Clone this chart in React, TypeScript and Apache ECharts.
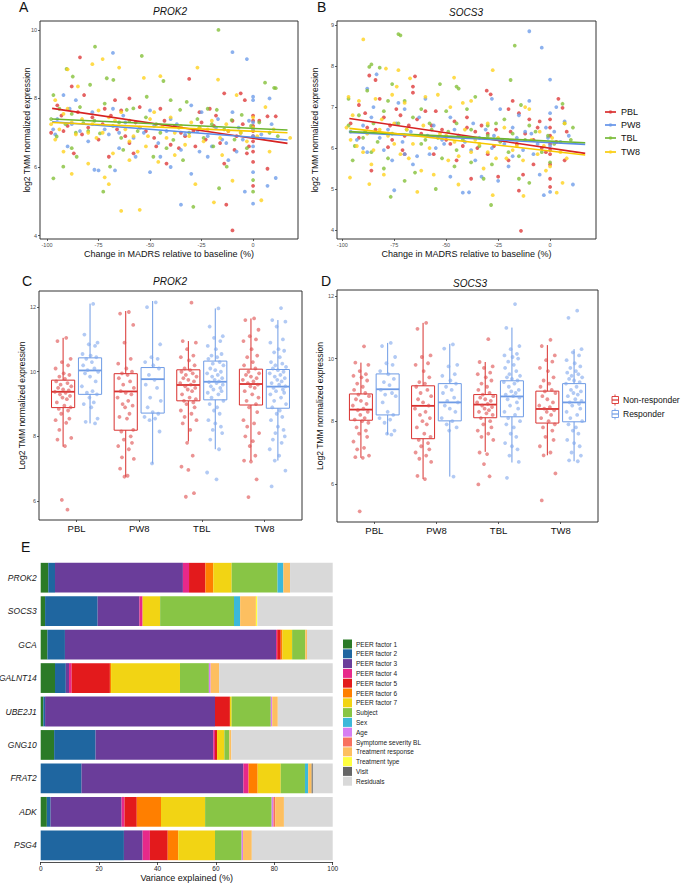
import React, { useEffect, useRef } from "react";
import * as echarts from "echarts";

// ---------- Panel A / B : scatter (x = change in MADRS %, y = expression) ----------
const A_PBL = [[-84,9.2],[-31,8.57],[-88,8.35],[-82,8.1],[-67,7.95],[-60,8.0],[-55,7.75],[-45,7.7],[-21,7.7],[-14,8.15],[-6,8.15],[-4,7.95],[0,7.5],[0,7.35],[0,7.2],[-10,7.35],[-18,7.5],[-25,7.3],[-35,7.0],[-40,6.65],[-48,6.85],[-58,6.4],[-66,7.1],[-73,7.25],[-80,7.15],[-92,7.05],[-95,7.8],[-87,6.4],[-70,6.3],[-42,6.1],[-28,6.6],[-14,6.1],[0,6.15],[0,5.45],[-13,4.9],[-10,4.15],[7,5.95],[11,7.48],[-3,6.4],[-9,6.5],[-36,6.55],[-62,6.9],
  [-93,7.5],[-90,7.2],[-85,7.6],[-78,7.45],[-75,6.8],[-72,7.7],[-69,7.5],[-64,7.65],[-57,7.3],[-52,7.05],[-47,6.6],[-43,7.35],[-38,7.2],[-33,6.9],[-29,7.05],[-23,6.8],[-19,7.2],[-16,6.7],[-12,7.05],[-8,6.9],[-5,7.25],[-2,6.6],[0,6.9],[0,6.75],[0,6.45],[0,7.05],[3,7.35],[7,7.48],[-98,7.0],[-83,6.95],[-60,6.7],[-26,7.6]];
const A_PW8 = [[-68,9.33],[-10,9.35],[-3,9.15],[-92,8.1],[-86,7.95],[-78,7.6],[-68,7.7],[-62,7.3],[-55,7.15],[-48,7.2],[-50,7.65],[-40,7.4],[-30,7.8],[-25,7.6],[-17,7.4],[0,8.05],[0,7.95],[8,8.0],[0,6.9],[-10,7.6],[-5,6.8],[-15,6.8],[-20,6.6],[-35,6.5],[-45,6.3],[-65,6.55],[-75,5.9],[-77,5.92],[-67,5.9],[-90,6.6],[-97,7.1],[-50,5.85],[-30,5.8],[-35,4.9],[0,4.93],[0,5.85],[-4,5.28],[11,5.68],[7,5.45],[-8,6.45],[-40,6.0],[-22,6.3],
  [-95,7.4],[-88,7.25],[-84,7.05],[-80,6.75],[-72,7.1],[-70,6.95],[-63,7.5],[-58,6.85],[-53,7.0],[-46,6.7],[-42,7.05],[-37,7.25],[-33,6.95],[-27,7.05],[-22,6.9],[-18,7.15],[-13,6.7],[-7,7.15],[-2,7.35],[0,7.1],[0,6.6],[0,7.3],[4,6.95],[9,7.25],[-89,7.7],[-57,6.3],[-26,6.45],[-12,6.2],[-96,6.95],[-65,7.0]];
const A_TBL = [[-16.8,10.0],[-76.7,9.51],[-54,9.24],[-90.5,8.86],[-87.5,8.64],[-71,8.59],[-43.5,8.51],[5.8,8.46],[10.2,8.31],[-96.9,8.1],[-51.6,8.05],[-32.2,7.9],[-61.3,7.67],[-17.6,7.67],[-82.4,7.28],[-74.3,6.98],[-38.7,6.79],[-95.3,6.89],[-19.3,6.6],[-48.4,6.3],[-85.6,6.3],[-92.1,6.01],[-12.8,6.01],[-69.4,6.01],[-72.7,5.28],[-96.9,5.67],[-29,4.84],[0,5.28],[0,5.62],[-16.5,5.38],[-35.4,7.67],[-58.1,7.71],[-79.1,8.4],[-67.8,8.54],[-10.4,7.37],[-5.5,7.52],[-26,7.15],[-45,7.0],[-65,7.3],[-88,7.55],[-3,6.55],[12,6.9],
  [-98,7.4],[-94,7.7],[-91,7.25],[-86,7.0],[-84,7.75],[-80,7.05],[-77,7.35],[-72,7.85],[-68,7.2],[-64,6.85],[-60,7.35],[-56,7.05],[-52,7.45],[-47,7.25],[-42,6.55],[-40,7.95],[-36,7.15],[-31,7.0],[-27,7.4],[-24,6.85],[-20,7.25],[-14,7.1],[-9,6.8],[-6,7.0],[-1,7.2],[3,7.3],[8,7.0],[11,8.3],[-88,6.55],[-63,6.5],[-34,6.2],[-22,7.7]];
const A_TW8 = [[-73,9.15],[-78,9.0],[-90,8.85],[-85,8.35],[-65,8.9],[-53,8.6],[-45,8.65],[-27,8.9],[-17,8.55],[-8,8.1],[-96,7.95],[-92,7.55],[-88,7.3],[-80,7.0],[-75,7.65],[-70,7.45],[-62,7.1],[-58,6.9],[-50,7.4],[-44,7.2],[-38,7.0],[-30,7.3],[-22,7.1],[-12,7.05],[0,7.45],[6,7.75],[-96,6.8],[-88,5.8],[-80,6.1],[-72,5.7],[-70,5.5],[-60,6.2],[-56,6.45],[-46,6.15],[-28,5.5],[-19,4.97],[4,5.03],[-64,4.72],[-55,4.75],[-10,5.6],[18,6.85],[8,6.45],[-15,6.35],[-33,6.65],
  [-98,7.25],[-94,7.1],[-90,7.7],[-86,6.95],[-83,7.4],[-78,7.25],[-76,6.85],[-73,7.0],[-67,7.35],[-64,7.6],[-60,6.75],[-55,7.15],[-51,6.9],[-48,7.6],[-42,6.85],[-40,7.45],[-35,7.2],[-31,6.9],[-26,7.15],[-24,6.75],[-20,7.35],[-16,6.85],[-13,7.25],[-6,7.0],[-3,6.75],[0,7.15],[2,6.9],[10,7.1],[-92,6.45],[-68,6.4],[-52,6.6],[-38,6.35]];

const B_PBL = [[-87,7.77],[-84,7.66],[-65,7.75],[-66,7.5],[-66,7.35],[-30.5,7.4],[-28.6,7.31],[-92,7.05],[-88,6.5],[-80,6.75],[-76,6.2],[-72,6.8],[-68,6.55],[-62,6.35],[-55,6.9],[-50,6.2],[-46,6.65],[-40,6.5],[-35,6.0],[-30,6.35],[-26,6.45],[-20,6.95],[-18,7.15],[-15,6.85],[-10,6.7],[-5,6.65],[0,6.5],[0,6.3],[0,6.1],[0,5.85],[0,5.6],[0,5.25],[0,5.05],[4,7.2],[6,6.98],[7,5.7],[-14,3.98],[-15,4.96],[-13,5.35],[-20,5.7],[-25,5.3],[-38,5.25],[-56,5.85],[-70,5.85],[-86,5.45],[-78,6.02],[-42,6.05],[-8,5.6],[-4,6.0],
  [-96,6.6],[-92,6.25],[-89,6.85],[-84,6.45],[-82,7.2],[-77,6.55],[-74,6.95],[-70,6.3],[-64,6.7],[-60,6.9],[-57,6.55],[-52,6.45],[-48,6.1],[-44,6.3],[-40,6.75],[-36,6.4],[-33,6.55],[-27,6.05],[-23,6.2],[-19,6.4],[-16,6.1],[-12,6.35],[-8,6.2],[-6,6.5],[-2,5.9],[0,6.7],[0,5.95],[3,6.15],[8,6.4],[-71,5.95],[-45,5.7],[-30,5.85]];
const B_PW8 = [[-10,8.85],[-4,8.45],[-83.5,7.8],[0,7.67],[-88,7.45],[-85,7.0],[-90,6.55],[-96,6.4],[-78,6.45],[-73,7.1],[-70,6.95],[-60,7.2],[-52,6.2],[-48,6.75],[-44,6.3],[-38,5.95],[-28,7.2],[-28,6.0],[-24,6.95],[-18,6.5],[-15,6.8],[-12,6.4],[-10,7.15],[-2,6.5],[0,6.85],[3,7.0],[7,6.65],[-88,5.9],[-76,5.7],[-70,5.85],[-64,5.8],[-58,5.85],[-48,5.3],[-42,4.91],[-39,4.92],[-33,5.3],[-20,5.55],[-18,5.8],[-3,4.85],[0,4.93],[11,5.11],[-75,4.97],[-5,5.35],[-25,5.2],[-55,6.0],
  [-93,6.2],[-90,6.0],[-86,6.75],[-82,6.25],[-80,5.95],[-74,6.6],[-71,6.15],[-67,6.4],[-63,6.75],[-59,6.3],[-56,6.55],[-51,6.1],[-46,6.45],[-41,6.15],[-37,6.6],[-34,6.25],[-31,6.45],[-27,6.3],[-22,6.1],[-16,6.25],[-13,5.95],[-9,6.35],[-6,6.1],[-1,6.25],[0,6.05],[2,6.4],[5,6.15],[9,6.3],[-66,5.6],[-36,5.7],[-8,5.85]];
const B_TBL = [[-17,8.5],[-73,8.78],[-72,8.75],[-86,8.04],[-87,7.98],[-82,7.96],[-19,7.66],[-53,7.56],[-45,7.5],[-44,7.45],[-76,7.56],[-88,7.4],[-97,7.2],[-78,7.15],[-70,7.15],[-62,6.95],[-58,6.6],[-50,6.9],[-40,6.95],[-36,7.25],[-30,6.55],[-22,6.7],[-14,7.05],[-10,6.55],[6,7.08],[7,6.6],[11,6.5],[-95,5.7],[-86,5.9],[-80,5.5],[-76.7,4.81],[-70,5.2],[-65,5.4],[-55,5.0],[-46,5.55],[-38,5.65],[-32,5.25],[-28.4,4.61],[-28,5.6],[-20,5.9],[-15,5.25],[-10,5.15],[0,5.65],[-60,6.2],[-90,6.25],[-45,5.95],
  [-97,6.55],[-94,6.05],[-92,6.8],[-89,6.4],[-85,6.6],[-83,6.15],[-80,6.9],[-76,6.35],[-73,6.6],[-69,6.45],[-66,6.75],[-62,6.1],[-57,6.45],[-54,6.25],[-49,6.4],[-45,6.6],[-42,6.2],[-38,6.45],[-34,6.05],[-30,6.3],[-26,6.6],[-24,6.15],[-18,6.35],[-15,5.8],[-12,6.2],[-7,6.4],[-4,5.9],[-1,6.3],[2,6.1],[10,6.2],[-52,5.75],[-78,5.75]];
const B_TW8 = [[-89.9,8.65],[-79,7.94],[-73,7.9],[-27.6,7.9],[-67.4,7.7],[-46.2,7.72],[-73.8,7.5],[-97,7.25],[-92,7.15],[-84,7.2],[-76,7.3],[-70,7.1],[-60,7.25],[-54,7.3],[-48,7.0],[-42,7.1],[-38,7.15],[-30,6.6],[-22,6.5],[-12,7.0],[-10,6.95],[-5,6.4],[7,6.6],[-96,6.2],[-90,5.9],[-82,6.45],[-75,6.1],[-68,5.75],[-62,5.45],[-56,5.35],[-50,6.3],[-44,5.8],[-36,6.2],[-32,5.5],[-26,5.75],[-18,5.95],[-12.8,4.83],[-27.6,4.85],[-63.9,4.93],[3.2,4.91],[-44.1,5.11],[-87,5.12],[-96.3,5.28],[-2,5.45],[6,5.15],[-80,5.35],
  [-98,6.5],[-95,6.8],[-93,6.05],[-88,6.35],[-85,5.95],[-81,6.7],[-78,6.3],[-75,6.6],[-72,5.85],[-69,6.45],[-66,6.1],[-61,6.55],[-58,6.0],[-53,6.35],[-49,5.7],[-46,6.15],[-41,6.45],[-38,5.9],[-34,6.1],[-30,5.9],[-25,6.25],[-21,5.75],[-16,6.05],[-13,5.7],[-9,6.2],[-6,5.85],[-3,6.05],[0,5.55],[1,6.25],[5,5.9],[8,5.75],[-86,5.6]];

// fitted regression line end points [[x0,y0],[x1,y1]]
const A_FIT_PBL = [[-97.5, 7.71], [16.7, 6.69]];
const A_FIT_PW8 = [[-97.5, 7.32], [16.7, 6.79]];
const A_FIT_TBL = [[-97.5, 7.40], [16.7, 7.08]];
const A_FIT_TW8 = [[-97.5, 7.30], [16.7, 7.0]];
const B_FIT_PBL = [[-96.6, 6.72], [16.9, 5.87]];
const B_FIT_PW8 = [[-96.6, 6.38], [16.9, 6.09]];
const B_FIT_TBL = [[-96.6, 6.40], [16.9, 6.13]];
const B_FIT_TW8 = [[-96.6, 6.48], [16.9, 5.83]];

const GROUPS = ["PBL", "PW8", "TBL", "TW8"];
const A_X_TICKS = [-100, -75, -50, -25, 0];
const A_Y_TICKS = [4, 6, 8, 10];
const B_Y_TICKS = [4, 5, 6, 7, 8, 9];

// ---------- Panel C / D : boxplots ----------
const CATS = ["PBL", "PW8", "TBL", "TW8"];
const BOX_Y_TICKS = [6, 8, 10, 12];
// [min, Q1, median, Q3, max] per category
const C_BOX_NON = [[7.68, 8.89, 9.38, 9.74, 11.05], [6.75, 8.19, 9.39, 9.94, 11.88], [7.84, 9.10, 9.59, 10.06, 10.95], [7.25, 8.97, 9.62, 10.08, 11.65]];
const C_BOX_RES = [[8.40, 9.30, 10.04, 10.43, 12.11], [7.16, 8.72, 9.77, 10.13, 12.19], [7.60, 9.13, 9.69, 10.33, 11.96], [7.25, 8.87, 9.54, 10.07, 11.60]];
const D_BOX_NON = [[6.83, 8.03, 8.37, 8.87, 9.87], [6.15, 7.44, 8.49, 9.13, 11.14], [7.02, 8.11, 8.53, 8.85, 9.89], [6.91, 7.94, 8.39, 8.96, 10.43]];
const D_BOX_RES = [[7.57, 8.20, 9.02, 9.51, 10.50], [6.23, 8.01, 8.60, 9.20, 10.47], [6.68, 8.14, 8.79, 9.29, 10.99], [6.72, 7.98, 8.60, 9.20, 10.30]];

// jittered observations (y) per category
const C_PTS_NON = [
  [11.05,10.95,10.4,10.3,10.2,10.1,9.95,9.9,9.85,9.78,9.7,9.65,9.6,9.55,9.5,9.45,9.42,9.38,9.35,9.3,9.25,9.2,9.15,9.05,8.95,8.9,8.85,8.8,8.7,8.55,8.5,8.42,8.2,7.95,7.9,7.7,6.03,5.73],
  [11.85,11.8,11.45,10.9,10.4,10.25,10.1,10.0,9.95,9.9,9.8,9.7,9.6,9.5,9.4,9.35,9.3,9.2,9.1,9.0,8.95,8.9,8.7,8.6,8.55,8.2,8.15,8.0,7.9,7.8,7.7,7.6,7.35,7.3,7.0,6.78,6.75],
  [12.14,10.95,10.9,10.7,10.5,10.45,10.35,10.2,10.1,10.05,10.0,9.95,9.9,9.85,9.8,9.75,9.7,9.65,9.6,9.55,9.5,9.45,9.4,9.3,9.2,9.15,9.1,9.05,9.0,8.9,8.8,8.7,8.6,8.5,8.4,8.2,7.8,7.4,7.06,6.96,6.24,6.13],
  [11.65,11.6,11.3,11.1,11.0,10.95,10.7,10.5,10.45,10.3,10.2,10.1,10.0,9.95,9.9,9.85,9.8,9.75,9.7,9.65,9.6,9.55,9.5,9.4,9.3,9.2,9.1,9.0,8.9,8.75,8.5,8.4,8.3,8.1,8.0,7.85,7.7,7.4,7.25,7.22,6.67,6.12],
];
const C_PTS_RES = [
  [12.1,11.15,10.9,10.85,10.8,10.55,10.5,10.45,10.4,10.3,10.2,10.1,10.05,10.0,9.95,9.85,9.7,9.55,9.4,9.35,9.3,9.2,9.05,9.0,8.9,8.55,8.45,8.4],
  [12.15,12.0,10.85,10.45,10.4,10.3,10.2,10.1,9.9,9.75,9.6,9.5,9.2,9.1,8.9,8.75,8.7,8.6,8.55,8.5,8.15,7.16],
  [11.96,11.4,11.1,11.05,10.95,10.8,10.7,10.55,10.5,10.45,10.4,10.3,10.25,10.2,10.1,10.05,10.0,9.95,9.9,9.85,9.8,9.75,9.7,9.68,9.65,9.6,9.55,9.5,9.45,9.4,9.35,9.3,9.2,9.1,9.0,8.9,8.8,8.7,8.5,8.4,8.3,8.2,8.1,7.9,7.6,6.88,6.67],
  [11.97,11.6,11.55,11.4,11.0,10.9,10.7,10.65,10.6,10.45,10.3,10.25,10.2,10.15,10.1,10.05,10.0,9.95,9.9,9.85,9.8,9.75,9.7,9.65,9.6,9.55,9.5,9.45,9.4,9.35,9.3,9.2,9.1,9.0,8.9,8.8,8.7,8.6,8.5,8.3,8.2,8.1,8.0,7.9,7.8,7.6,7.4,7.25,6.94,6.45],
];
const D_PTS_NON = [
  [10.39,9.87,9.8,9.6,9.5,9.45,9.4,9.3,9.2,9.1,9.0,8.9,8.85,8.8,8.7,8.65,8.55,8.5,8.4,8.35,8.3,8.2,8.1,8.05,8.0,7.95,7.8,7.7,7.6,7.5,7.35,7.15,7.1,6.9,6.85,6.83,5.12],
  [11.14,10.95,10.1,10.05,9.85,9.8,9.6,9.4,9.25,9.2,9.1,9.0,8.9,8.8,8.7,8.6,8.5,8.4,8.3,8.2,8.1,8.0,7.9,7.8,7.6,7.5,7.4,7.3,7.2,7.1,7.0,6.9,6.8,6.7,6.25,6.15],
  [10.62,9.89,9.75,9.7,9.55,9.5,9.4,9.3,9.2,9.1,9.0,8.9,8.85,8.8,8.75,8.7,8.65,8.6,8.55,8.5,8.45,8.4,8.35,8.3,8.25,8.2,8.1,8.0,7.9,7.8,7.7,7.6,7.5,7.4,7.0,6.95,6.63,6.24,5.98],
  [10.6,10.4,10.1,9.95,9.9,9.7,9.6,9.4,9.3,9.2,9.1,9.0,8.95,8.9,8.8,8.7,8.6,8.5,8.45,8.4,8.35,8.3,8.2,8.1,8.0,7.9,7.8,7.7,7.5,7.4,7.2,7.0,6.91,6.33,5.47],
];
const D_PTS_RES = [
  [10.5,10.4,10.05,9.85,9.8,9.6,9.5,9.35,9.25,9.15,9.0,8.9,8.85,8.8,8.6,8.3,8.2,8.1,8.05,7.95,7.7,7.6,7.57],
  [10.45,10.32,9.8,9.75,9.5,9.45,9.3,9.2,9.1,9.0,8.9,8.75,8.65,8.6,8.5,8.4,8.3,8.1,8.0,7.9,7.8,7.7,6.23],
  [11.74,10.98,10.4,10.3,10.15,10.1,10.05,10.0,9.9,9.8,9.7,9.6,9.5,9.45,9.4,9.35,9.3,9.25,9.2,9.1,9.0,8.95,8.9,8.85,8.8,8.75,8.7,8.6,8.5,8.4,8.3,8.2,8.1,8.0,7.9,7.8,7.6,7.5,7.3,7.2,7.1,6.9,6.7,6.19],
  [11.53,11.3,10.3,10.2,10.1,9.95,9.85,9.75,9.7,9.6,9.55,9.5,9.45,9.4,9.35,9.3,9.25,9.2,9.1,9.0,8.95,8.9,8.85,8.8,8.7,8.65,8.6,8.55,8.5,8.4,8.3,8.2,8.1,8.0,7.9,7.8,7.7,7.6,7.4,7.3,7.2,7.0,6.9,6.75,6.72],
];
// horizontal jitter offsets (category units), as typed values
const JITTER = [0.05,-0.09,0.12,-0.02,0.08,-0.12,0.01,0.1,-0.06,0.03,-0.11,0.07,-0.04,0.13,-0.08,0.0,0.09,-0.13,0.04,-0.05,0.11,-0.01,0.06,-0.1,0.02,0.12,-0.07,0.08,-0.03,0.1,-0.12,0.05,-0.06,0.13,-0.09,0.03,-0.02,0.07,-0.11,0.0,0.09,-0.04,0.11,-0.08,0.06,-0.13,0.02,-0.05,0.12,-0.1];

// ---------- Panel E : variance partition ----------
const GENES = ["PROK2", "SOCS3", "GCA", "GALNT14", "UBE2J1", "GNG10", "FRAT2", "ADK", "PSG4"];
const FACTORS = ["PEER factor 1", "PEER factor 2", "PEER factor 3", "PEER factor 4", "PEER factor 5", "PEER factor 6", "PEER factor 7", "Subject", "Sex", "Age", "Symptome severity BL", "Treatment response", "Treatment type", "Visit", "Residuals"];
const V_PROK2 = [2.6, 2.3, 43.8, 2.1, 5.6, 2.7, 6.3, 15.7, 2.0, 0, 0, 2.3, 0, 0, 14.6];
const V_SOCS3 = [1.5, 18.0, 14.3, 1.1, 0, 0, 6.0, 25.3, 2.1, 0, 0, 5.4, 0.5, 0, 25.8];
const V_GCA = [2.3, 6.0, 72.3, 0.4, 1.2, 0.6, 3.3, 4.5, 0, 0, 0, 0.6, 0, 0, 8.8];
const V_GALNT14 = [4.9, 3.7, 1.1, 0.9, 13.1, 0.4, 23.6, 9.9, 0, 0.6, 0, 2.9, 0, 0, 38.9];
const V_UBE2J1 = [0.9, 0.6, 58.2, 0, 5.1, 0, 0.6, 13.4, 0, 0.5, 0, 1.9, 0, 0, 18.8];
const V_GNG10 = [4.6, 14.2, 40.3, 0.6, 0.7, 0, 2.5, 1.7, 0, 0, 0, 0.7, 0, 0, 34.7];
const V_FRAT2 = [0, 14.0, 55.4, 1.8, 0, 3.1, 7.9, 8.3, 1.1, 0, 0, 1.2, 0, 0.4, 6.8];
const V_ADK = [2.1, 1.3, 24.3, 1.0, 4.2, 8.3, 15.1, 22.8, 0, 0.6, 0.6, 3.0, 0, 0, 16.7];
const V_PSG4 = [0, 28.5, 6.4, 2.5, 6.1, 3.6, 12.6, 9.1, 0, 0.5, 0, 3.0, 0, 0, 27.7];
const E_TICKS = [0, 20, 40, 60, 80, 100];

// ---------- styles ----------
const FONT = '"Liberation Sans", Arial, Helvetica, sans-serif';
const GROUP_COLORS = ["#DE3B3B", "#6F9DEA", "#84C13A", "#FFD21E"];
const LINE_COLORS = ["#D62222", "#5B8DE8", "#6DB530", "#F7C800"];
const NON_COLOR = "#D9302E";
const RES_COLOR = "#6E9BE5";
const FACTOR_COLORS = ["#2B7A27", "#1F66A0", "#6A3D9A", "#E7298A", "#E31A1C", "#FF7F00", "#F2D414", "#88C545", "#3CB8DA", "#D67EF2", "#F8705E", "#FDBF60", "#FFFF40", "#666666", "#D9D9D9"];
const DODGE = 0.215;
const BOX_HALF = 0.185;

export default function App() {
  const ref = useRef<HTMLDivElement>(null);

  useEffect(() => {
    if (!ref.current) return;
    const chart = echarts.init(ref.current, undefined, { renderer: "svg" });

    const smallLabel = { fontSize: 5.5, color: "#4D4D4D", margin: 3, fontFamily: FONT };
    const tick = (vals: number[]) => ({ show: true, length: 2, customValues: vals, lineStyle: { color: "#333", width: 0.8 } });

    const scatterAxisX = (grid: number, min: number, max: number) => ({
      type: "value", gridIndex: grid, min, max,
      axisLine: { show: false, onZero: false }, splitLine: { show: false },
      axisTick: tick(A_X_TICKS),
      axisLabel: { ...smallLabel, customValues: A_X_TICKS },
      name: "Change in MADRS relative to baseline (%)", nameLocation: "middle", nameGap: 10,
      nameTextStyle: { fontSize: 9, color: "#111", fontFamily: FONT },
    });
    const valueY = (grid: number, min: number, max: number, ticks: number[], name: string, gap: number) => ({
      type: "value", gridIndex: grid, min, max,
      axisLine: { show: false, onZero: false }, splitLine: { show: false },
      axisTick: tick(ticks),
      axisLabel: { ...smallLabel, customValues: ticks },
      name, nameLocation: "middle", nameRotate: 90, nameGap: gap, nameMoveOverlap: false,
      nameTextStyle: { fontSize: 8.5, color: "#111", fontFamily: FONT },
    });
    const boxAxisX = (grid: number) => ({
      type: "value", gridIndex: grid, min: 0.4, max: 4.6,
      axisLine: { show: false, onZero: false }, splitLine: { show: false },
      axisTick: tick([1, 2, 3, 4]),
      axisLabel: { fontSize: 9.5, color: "#111", margin: 3, fontFamily: FONT, customValues: [1, 2, 3, 4], formatter: (v: number) => CATS[Math.round(v) - 1] },
    });

    const scatterSeries = (ax: number, sets: number[][][], fits: number[][][]) => {
      const out: any[] = [];
      sets.forEach((pts, i) => {
        out.push({
          type: "scatter", name: GROUPS[i] + (ax === 0 ? "_A" : "_B"), xAxisIndex: ax, yAxisIndex: ax,
          data: pts, symbolSize: 3.8, itemStyle: { color: GROUP_COLORS[i], opacity: 0.8 }, silent: true,
        });
      });
      fits.forEach((f, i) => {
        out.push({
          type: "line", name: GROUPS[i] + (ax === 0 ? "_Afit" : "_Bfit"), xAxisIndex: ax, yAxisIndex: ax,
          data: f, symbol: "none", lineStyle: { color: LINE_COLORS[i], width: 1.6 }, z: 5, silent: true,
        });
      });
      return out;
    };

    const boxSeries = (ax: number, stats: number[][], offset: number, color: string, name: string) => ({
      type: "custom", name, xAxisIndex: ax, yAxisIndex: ax,
      data: stats.map((s, i) => [i + 1 + offset, ...s]),
      encode: { x: 0, y: [1, 2, 3, 4, 5] },
      silent: true,
      renderItem: (params: any, api: any) => {
        const x = api.value(0);
        const pMin = api.coord([x, api.value(1)]);
        const pQ1 = api.coord([x, api.value(2)]);
        const pMed = api.coord([x, api.value(3)]);
        const pQ3 = api.coord([x, api.value(4)]);
        const pMax = api.coord([x, api.value(5)]);
        const left = api.coord([x - BOX_HALF, api.value(3)])[0];
        const right = api.coord([x + BOX_HALF, api.value(3)])[0];
        return {
          type: "group",
          children: [
            { type: "line", shape: { x1: pMin[0], y1: pMin[1], x2: pQ1[0], y2: pQ1[1] }, style: { stroke: color, lineWidth: 1 } },
            { type: "line", shape: { x1: pQ3[0], y1: pQ3[1], x2: pMax[0], y2: pMax[1] }, style: { stroke: color, lineWidth: 1 } },
            { type: "rect", shape: { x: left, y: pQ3[1], width: right - left, height: pQ1[1] - pQ3[1] }, style: { fill: "rgba(255,255,255,0)", stroke: color, lineWidth: 1 } },
            { type: "line", shape: { x1: left, y1: pMed[1], x2: right, y2: pMed[1] }, style: { stroke: color, lineWidth: 1.8 } },
          ],
        };
      },
    });

    const jitterSeries = (ax: number, pts: number[][], offset: number, color: string, name: string) => {
      const data: number[][] = [];
      pts.forEach((ys, i) => ys.forEach((y, j) => data.push([i + 1 + offset + JITTER[j % JITTER.length], y])));
      return {
        type: "scatter", name, xAxisIndex: ax, yAxisIndex: ax, data, symbolSize: 3.8,
        itemStyle: { color, opacity: 0.6 }, z: 4, silent: true,
      };
    };

    const geneRows = [V_PROK2, V_SOCS3, V_GCA, V_GALNT14, V_UBE2J1, V_GNG10, V_FRAT2, V_ADK, V_PSG4];
    const barSeries = FACTORS.map((f, k) => ({
      type: "bar", name: f, stack: "vp", xAxisIndex: 4, yAxisIndex: 4,
      data: geneRows.map((r) => r[k]), barCategoryGap: "11%",
      itemStyle: { color: FACTOR_COLORS[k] }, silent: true,
    }));

    const letter = (t: string, x: number, y: number) => ({
      type: "text", left: x, top: y, style: { text: t, fontSize: 14, fontFamily: FONT, fill: "#111" },
    });
    const gtitle = (t: string, cx: number, cy: number) => ({
      type: "text", x: cx, y: cy, style: { text: t, fontSize: 10, fontStyle: "italic", fontFamily: FONT, fill: "#111", align: "center", verticalAlign: "middle" },
    });

    const legendAB: any[] = [];
    GROUPS.forEach((g, i) => {
      const y = [112, 125, 138, 152][i];
      legendAB.push({ type: "line", shape: { x1: 605, y1: y, x2: 616, y2: y }, style: { stroke: LINE_COLORS[i], lineWidth: 1.6 } });
      legendAB.push({ type: "circle", shape: { cx: 610.5, cy: y, r: 1.6 }, style: { fill: GROUP_COLORS[i] } });
      legendAB.push({ type: "text", x: 621, y, style: { text: g, fontSize: 9, fontFamily: FONT, fill: "#111", verticalAlign: "middle" } });
    });

    const legendD: any[] = [];
    [["Non-responder", NON_COLOR, 400], ["Responder", RES_COLOR, 414]].forEach(([t, c, y]: any) => {
      legendD.push({ type: "line", shape: { x1: 615, y1: y - 5.5, x2: 615, y2: y + 5.5 }, style: { stroke: c, lineWidth: 0.9 } });
      legendD.push({ type: "rect", shape: { x: 612, y: y - 3.5, width: 6.5, height: 7 }, style: { fill: "#fff", stroke: c, lineWidth: 0.9 } });
      legendD.push({ type: "line", shape: { x1: 612, y1: y, x2: 618.5, y2: y }, style: { stroke: c, lineWidth: 1.2 } });
      legendD.push({ type: "text", x: 623, y, style: { text: t, fontSize: 8.5, fontFamily: FONT, fill: "#111", verticalAlign: "middle" } });
    });

    const gridBase = { show: true, borderColor: "#333", borderWidth: 1, backgroundColor: "#fff", outerBoundsMode: "none", containLabel: false };
    const option: any = {
      animation: false,
      textStyle: { fontFamily: FONT },
      grid: [
        { ...gridBase, left: 40, top: 21, width: 258, height: 218 },
        { ...gridBase, left: 337, top: 21, width: 259, height: 218 },
        { ...gridBase, left: 39, top: 291, width: 263, height: 229 },
        { ...gridBase, left: 337, top: 290, width: 261, height: 232 },
        { left: 40.7, top: 561, width: 292, height: 301, show: false, outerBoundsMode: "none", containLabel: false },
      ],
      xAxis: [
        scatterAxisX(0, -103.4, 21.8),
        scatterAxisX(1, -102.55, 22.1),
        boxAxisX(2),
        boxAxisX(3),
        {
          type: "value", gridIndex: 4, min: 0, max: 100,
          axisLine: { show: true, onZero: false, lineStyle: { color: "#222", width: 0.8 } },
          splitLine: { show: false },
          axisTick: { show: true, length: 3, customValues: E_TICKS, lineStyle: { color: "#222", width: 0.8 } },
          axisLabel: { fontSize: 6.5, color: "#222", margin: 3, customValues: E_TICKS, fontFamily: FONT },
          name: "Variance explained (%)", nameLocation: "middle", nameGap: 11,
          nameTextStyle: { fontSize: 9, color: "#111", fontFamily: FONT },
        },
      ],
      yAxis: [
        valueY(0, 3.9, 10.26, A_Y_TICKS, "log2 TMM normalized expression", 8.5),
        valueY(1, 3.78, 9.1, B_Y_TICKS, "log2 TMM normalized expression", 17.5),
        valueY(2, 5.41, 12.5, BOX_Y_TICKS, "Log2 TMM normalized expression", 12.5),
        valueY(3, 4.78, 12.19, BOX_Y_TICKS, "Log2 TMM normalized expression", 12.5),
        {
          type: "category", gridIndex: 4, data: GENES, inverse: true,
          axisLine: { show: false, onZero: false }, axisTick: { show: false }, splitLine: { show: false },
          axisLabel: { fontSize: 8.5, fontStyle: "italic", color: "#1a1a1a", margin: 4, fontFamily: FONT },
        },
      ],
      legend: {
        data: FACTORS, orient: "vertical", left: 343, top: 639.5, padding: 0,
        itemWidth: 9, itemHeight: 9, itemGap: 0.8, icon: "rect", selectedMode: false,
        textStyle: { fontSize: 6.5, color: "#1a1a1a", fontFamily: FONT, padding: [0, 0, 0, -1] },
      },
      series: [
        ...scatterSeries(0, [A_PBL, A_PW8, A_TBL, A_TW8], [A_FIT_PBL, A_FIT_PW8, A_FIT_TBL, A_FIT_TW8]),
        ...scatterSeries(1, [B_PBL, B_PW8, B_TBL, B_TW8], [B_FIT_PBL, B_FIT_PW8, B_FIT_TBL, B_FIT_TW8]),
        boxSeries(2, C_BOX_NON, -DODGE, NON_COLOR, "C Non-responder box"),
        boxSeries(2, C_BOX_RES, DODGE, RES_COLOR, "C Responder box"),
        jitterSeries(2, C_PTS_NON, -DODGE, "#DE4B4B", "C Non-responder"),
        jitterSeries(2, C_PTS_RES, DODGE, "#7FA7EC", "C Responder"),
        boxSeries(3, D_BOX_NON, -DODGE, NON_COLOR, "D Non-responder box"),
        boxSeries(3, D_BOX_RES, DODGE, RES_COLOR, "D Responder box"),
        jitterSeries(3, D_PTS_NON, -DODGE, "#DE4B4B", "D Non-responder"),
        jitterSeries(3, D_PTS_RES, DODGE, "#7FA7EC", "D Responder"),
        ...barSeries,
      ],
      graphic: [
        letter("A", 19, 0),
        letter("B", 317, 0),
        letter("C", 22, 274),
        letter("D", 321, 274),
        letter("E", 21, 540),
        gtitle("PROK2", 170, 11),
        gtitle("SOCS3", 466, 12),
        gtitle("PROK2", 170, 281),
        gtitle("SOCS3", 470, 283),
        ...legendAB,
        ...legendD,
      ],
    };

    chart.setOption(option);
    return () => chart.dispose();
  }, []);

  return <div ref={ref} style={{ position: "absolute", left: 0, top: 0, width: 685, height: 884, background: "#fff" }} />;
}
